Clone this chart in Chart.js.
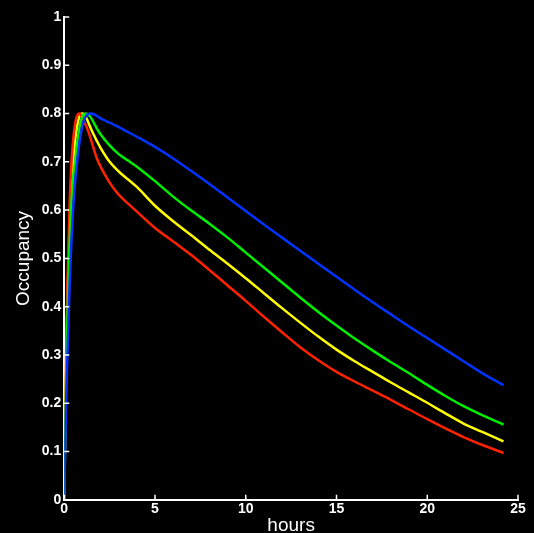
<html><head><meta charset="utf-8">
<script src="https://cdn.jsdelivr.net/npm/chart.js@4"></script>
<style>
 body { margin:0; background:#000; }
 #wrap { width:534px; height:533px; }
</style>
</head>
<body>
<div id="wrap"><canvas id="myChart" width="534" height="533"></canvas></div>
<script>
// occupancy curves
var hours  = [0, 0.1, 0.2, 0.3, 0.4, 0.5, 0.6, 0.7, 0.8, 0.9, 1, 1.2, 1.4, 1.6, 1.8, 2, 2.5, 3, 3.5, 4,
              5, 6, 7, 8, 9, 10, 11, 12, 13, 14, 15, 16, 17, 18, 19, 20, 21, 22, 23, 24.2];
var red    = [0, 0.30, 0.48, 0.62, 0.70, 0.75, 0.78, 0.795, 0.80, 0.798, 0.79, 0.775, 0.755, 0.73, 0.707, 0.69, 0.657, 0.632, 0.614, 0.597,
              0.563, 0.535, 0.507, 0.476, 0.444, 0.412, 0.379, 0.347, 0.316, 0.289, 0.265, 0.245, 0.226, 0.207, 0.187, 0.167, 0.148, 0.130, 0.114, 0.097];
var yellow = [0, 0.28, 0.45, 0.58, 0.66, 0.705, 0.745, 0.772, 0.79, 0.798, 0.80, 0.792, 0.775, 0.758, 0.743, 0.729, 0.70, 0.68, 0.664, 0.648,
              0.609, 0.577, 0.548, 0.518, 0.489, 0.459, 0.428, 0.397, 0.367, 0.338, 0.311, 0.287, 0.265, 0.243, 0.222, 0.201, 0.179, 0.158, 0.141, 0.121];
var green  = [0, 0.25, 0.42, 0.54, 0.62, 0.67, 0.70, 0.735, 0.762, 0.782, 0.794, 0.80, 0.795, 0.783, 0.769, 0.757, 0.734, 0.716, 0.703, 0.69,
              0.66, 0.628, 0.599, 0.572, 0.543, 0.512, 0.481, 0.450, 0.419, 0.389, 0.361, 0.334, 0.309, 0.285, 0.262, 0.238, 0.215, 0.194, 0.176, 0.156];
var blue   = [0, 0.20, 0.33, 0.45, 0.54, 0.61, 0.66, 0.697, 0.73, 0.755, 0.775, 0.795, 0.80, 0.799, 0.795, 0.79, 0.781, 0.772, 0.762, 0.752,
              0.731, 0.707, 0.681, 0.654, 0.626, 0.598, 0.570, 0.543, 0.516, 0.489, 0.462, 0.435, 0.409, 0.384, 0.359, 0.335, 0.311, 0.287, 0.263, 0.2375];

var xTicks = [0, 5, 10, 15, 20, 25];
var yTicks = [0, 0.1, 0.2, 0.3, 0.4, 0.5, 0.6, 0.7, 0.8, 0.9, 1];

function pts(arr) { return hours.map(function(h, i) { return {x: h, y: arr[i]}; }); }
function ds(arr, col) {
  return { data: pts(arr), borderColor: col, borderWidth: 2.5, pointRadius: 0,
           fill: false, cubicInterpolationMode: 'monotone' };
}

// small ticks pointing into the plot
var innerTicks = {
  id: 'innerTicks',
  afterDraw: function(chart) {
    var c = chart.ctx, xs = chart.scales.x, ys = chart.scales.y;
    var x0 = xs.getPixelForValue(0), y0 = ys.getPixelForValue(0);
    c.save();
    c.strokeStyle = '#fff';
    c.lineWidth = 1.5;
    c.beginPath();
    xTicks.forEach(function(t) { var p = xs.getPixelForValue(t); c.moveTo(p, y0); c.lineTo(p, y0 - 5); });
    yTicks.forEach(function(t) { var p = ys.getPixelForValue(t); c.moveTo(x0, p); c.lineTo(x0 + 5, p); });
    c.stroke();
    c.restore();
  }
};

var ctx = document.getElementById('myChart');
var myChart = new Chart(ctx, {
  type: 'line',
  data: { datasets: [ds(blue, '#0033ff'), ds(green, '#00ee00'), ds(red, '#ff2200'), ds(yellow, '#ffff00')] },
  plugins: [innerTicks],
  options: {
    responsive: false,
    animation: false,
    layout: { padding: { top: 17, right: 16, left: 12, bottom: 0 } },
    plugins: { legend: { display: false }, tooltip: { enabled: false } },
    scales: {
      x: {
        type: 'linear', min: 0, max: 25,
        afterBuildTicks: function(s) { s.ticks = xTicks.map(function(v) { return {value: v}; }); },
        grid: { display: false, drawTicks: false },
        border: { display: true, color: '#fff', width: 2 },
        ticks: { color: '#fff', padding: 2, maxRotation: 0,
                 font: { family: 'Liberation Sans', size: 14, weight: 'bold', lineHeight: 1 } },
        title: { display: true, text: 'hours', color: '#fff', padding: { top: 0, bottom: 0 },
                 font: { family: 'Liberation Sans', size: 19, lineHeight: 0.8 } }
      },
      y: {
        min: 0, max: 1,
        afterBuildTicks: function(s) { s.ticks = yTicks.map(function(v) { return {value: v}; }); },
        grid: { display: false, drawTicks: false },
        border: { display: true, color: '#fff', width: 2 },
        ticks: { color: '#fff', padding: 3,
                 font: { family: 'Liberation Sans', size: 14, weight: 'bold' },
                 callback: function(v) { return String(Math.round(v * 10) / 10); } },
        title: { display: true, text: 'Occupancy', color: '#fff', padding: { top: 0, bottom: 4 },
                 font: { family: 'Liberation Sans', size: 19 } }
      }
    }
  }
});
</script>
</body></html>
